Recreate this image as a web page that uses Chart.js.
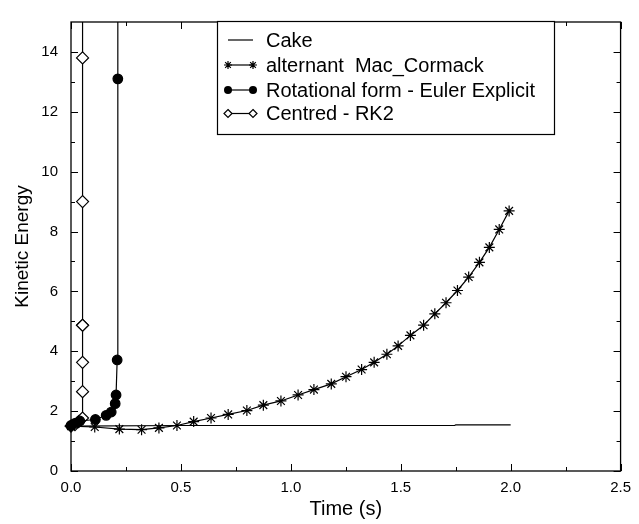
<!DOCTYPE html>
<html>
<head>
<meta charset="utf-8">
<script src="https://cdn.jsdelivr.net/npm/chart.js@4/dist/chart.umd.min.js"></script>
<style>
  html, body { margin: 0; padding: 0; background: #fff; }
  #wrap { width: 639px; height: 524px; }
</style>
</head>
<body>
<div id="wrap"><canvas id="c" width="639" height="524"></canvas></div>
<script>
/* kinetic energy vs time — four schemes, two blow up early */

const xTicks = [0, 0.5, 1.0, 1.5, 2.0, 2.5];
const xMinor = [0.25, 0.75, 1.25, 1.75, 2.25];
const yTicks = [0, 2, 4, 6, 8, 10, 12, 14];
const yMinor = [1, 3, 5, 7, 9, 11, 13];

const cakeT = [0, 0.5, 1.0, 1.5, 1.745, 1.75, 2.0];
const cakeV = [1.50, 1.52, 1.52, 1.52, 1.52, 1.54, 1.54];

const macT = [0, 0.108, 0.220, 0.321, 0.400, 0.482, 0.558, 0.637, 0.715, 0.800,
  0.875, 0.955, 1.033, 1.105, 1.184, 1.251, 1.322, 1.379, 1.437, 1.488,
  1.544, 1.604, 1.655, 1.706, 1.758, 1.809, 1.858, 1.903, 1.948, 1.993];
const macV = [1.50, 1.47, 1.40, 1.38, 1.44, 1.52, 1.65, 1.77, 1.89, 2.02,
  2.20, 2.34, 2.54, 2.72, 2.91, 3.15, 3.39, 3.63, 3.90, 4.18,
  4.53, 4.87, 5.25, 5.62, 6.03, 6.48, 6.97, 7.47, 8.07, 8.69];

const rotT = [0, 0.018, 0.040, 0.111, 0.160, 0.183, 0.201, 0.205, 0.210, 0.213, 0.213];
const rotV = [1.52, 1.59, 1.67, 1.72, 1.86, 1.97, 2.25, 2.54, 3.71, 13.1, 40];

const rkT = [0, 0.018, 0.035, 0.0526, 0.0526, 0.0526, 0.0526, 0.0526, 0.0526, 0.0526, 0.0526];
const rkV = [1.50, 1.55, 1.65, 1.77, 2.65, 3.63, 4.87, 4.87, 9.0, 13.8, 40];

const labels = ['Cake', 'alternant  Mac_Cormack', 'Rotational form - Euler Explicit', 'Centred - RK2'];

const FONT = "'Liberation Sans', Arial, Helvetica, sans-serif";
const pts = (t, v) => t.map((x, i) => ({ x, y: v[i] }));

const mkDs = (label, data, style, r, fill) => ({
  label, data,
  borderColor: '#000', backgroundColor: fill,
  borderWidth: 1.2,
  pointStyle: style, pointRadius: r, pointBorderWidth: 1.2,
  pointBorderColor: '#000', pointBackgroundColor: fill,
  showLine: true, tension: 0, fill: false,
  clip: { left: 8, top: 0, right: 8, bottom: 8 },
});

const frame = {
  id: 'frame',
  afterDatasetsDraw(chart) {
    const { ctx, chartArea: a, scales: { x, y } } = chart;
    ctx.save();
    ctx.strokeStyle = '#000';
    ctx.lineWidth = 1.3;
    ctx.strokeRect(a.left, a.top, a.right - a.left, a.bottom - a.top);
    ctx.lineWidth = 1;
    const tick = (x0, y0, x1, y1) => { ctx.beginPath(); ctx.moveTo(x0, y0); ctx.lineTo(x1, y1); ctx.stroke(); };
    const xs = [[xTicks, 7], [xMinor, 4]];
    xs.forEach(([vals, len]) => vals.forEach(v => {
      const px = Math.round(x.getPixelForValue(v)) + 0.5;
      tick(px, a.bottom, px, a.bottom - len);
      tick(px, a.top, px, a.top + len);
    }));
    const ys = [[yTicks, 7], [yMinor, 4]];
    ys.forEach(([vals, len]) => vals.forEach(v => {
      const py = Math.round(y.getPixelForValue(v)) + 0.5;
      tick(a.left, py, a.left + len, py);
      tick(a.right, py, a.right - len, py);
    }));
    ctx.restore();
  },
};

const legendBox = {
  id: 'legendBox',
  afterDraw(chart) {
    const ctx = chart.ctx;
    const bx = 217, by = 21, bw = 337, bh = 113;
    ctx.save();
    ctx.fillStyle = '#fff';
    ctx.fillRect(bx, by, bw, bh);
    ctx.strokeStyle = '#000';
    ctx.lineWidth = 1.2;
    ctx.strokeRect(bx + 0.5, by + 0.5, bw, bh);
    const rows = [40, 65, 90, 113.5];
    const x0 = 228, x1 = 253;
    const star = (cx, cy, r) => {
      ctx.beginPath();
      for (let k = 0; k < 4; k++) {
        const ang = k * Math.PI / 4;
        ctx.moveTo(cx - r * Math.cos(ang), cy - r * Math.sin(ang));
        ctx.lineTo(cx + r * Math.cos(ang), cy + r * Math.sin(ang));
      }
      ctx.stroke();
    };
    const dot = (cx, cy, r) => { ctx.beginPath(); ctx.arc(cx, cy, r, 0, Math.PI * 2); ctx.fillStyle = '#000'; ctx.fill(); };
    const diamond = (cx, cy, r) => {
      ctx.beginPath();
      ctx.moveTo(cx, cy - r); ctx.lineTo(cx + r, cy); ctx.lineTo(cx, cy + r); ctx.lineTo(cx - r, cy); ctx.closePath();
      ctx.fillStyle = '#fff'; ctx.fill(); ctx.stroke();
    };
    const marks = [null, star, dot, diamond];
    rows.forEach((ry, i) => {
      ctx.lineWidth = 1.2;
      ctx.beginPath(); ctx.moveTo(x0, ry); ctx.lineTo(x1, ry); ctx.stroke();
      if (marks[i]) { marks[i](x0, ry, 4); marks[i](x1, ry, 4); }
      ctx.fillStyle = '#000';
      ctx.font = '20px ' + FONT;
      ctx.textBaseline = 'middle';
      ctx.fillText(labels[i], 266, ry + 1);
    });
    ctx.restore();
  },
};

new Chart(document.getElementById('c'), {
  type: 'line',
  data: { datasets: [
    mkDs(labels[0], pts(cakeT, cakeV), 'circle', 0, '#000'),
    mkDs(labels[1], pts(macT, macV), 'star', 5.5, '#000'),
    mkDs(labels[2], pts(rotT, rotV), 'circle', 4.8, '#000'),
    mkDs(labels[3], pts(rkT, rkV), 'rectRot', 6, '#fff'),
  ]},
  options: {
    responsive: false,
    animation: false,
    devicePixelRatio: 1,
    layout: { padding: { top: 6, right: 12, left: 0, bottom: 0 } },
    plugins: { legend: { display: false }, tooltip: { enabled: false } },
    scales: {
      x: {
        type: 'linear', min: 0, max: 2.5,
        afterFit: s => { s.height = 53; },
        afterBuildTicks: s => { s.ticks = xTicks.map(value => ({ value })); },
        grid: { display: false, drawTicks: false },
        border: { display: false },
        ticks: { color: '#000', padding: 8, maxRotation: 0, font: { family: FONT, size: 15 },
          callback: v => Number(v).toFixed(1) },
        title: { display: true, text: 'Time (s)', color: '#000', padding: { top: 0, bottom: 3 },
          font: { family: FONT, size: 20 } },
      },
      y: {
        type: 'linear', min: 0, max: 15,
        afterFit: s => { s.width = 71; },
        afterBuildTicks: s => { s.ticks = yTicks.map(value => ({ value })); },
        grid: { display: false, drawTicks: false },
        border: { display: false },
        ticks: { color: '#000', padding: 13, font: { family: FONT, size: 15 },
          callback: v => String(v) },
        title: { display: true, text: 'Kinetic Energy', color: '#000', padding: { top: 11, bottom: 0 },
          font: { family: FONT, size: 19 } },
      },
    },
  },
  plugins: [frame, legendBox],
});
</script>
</body>
</html>
